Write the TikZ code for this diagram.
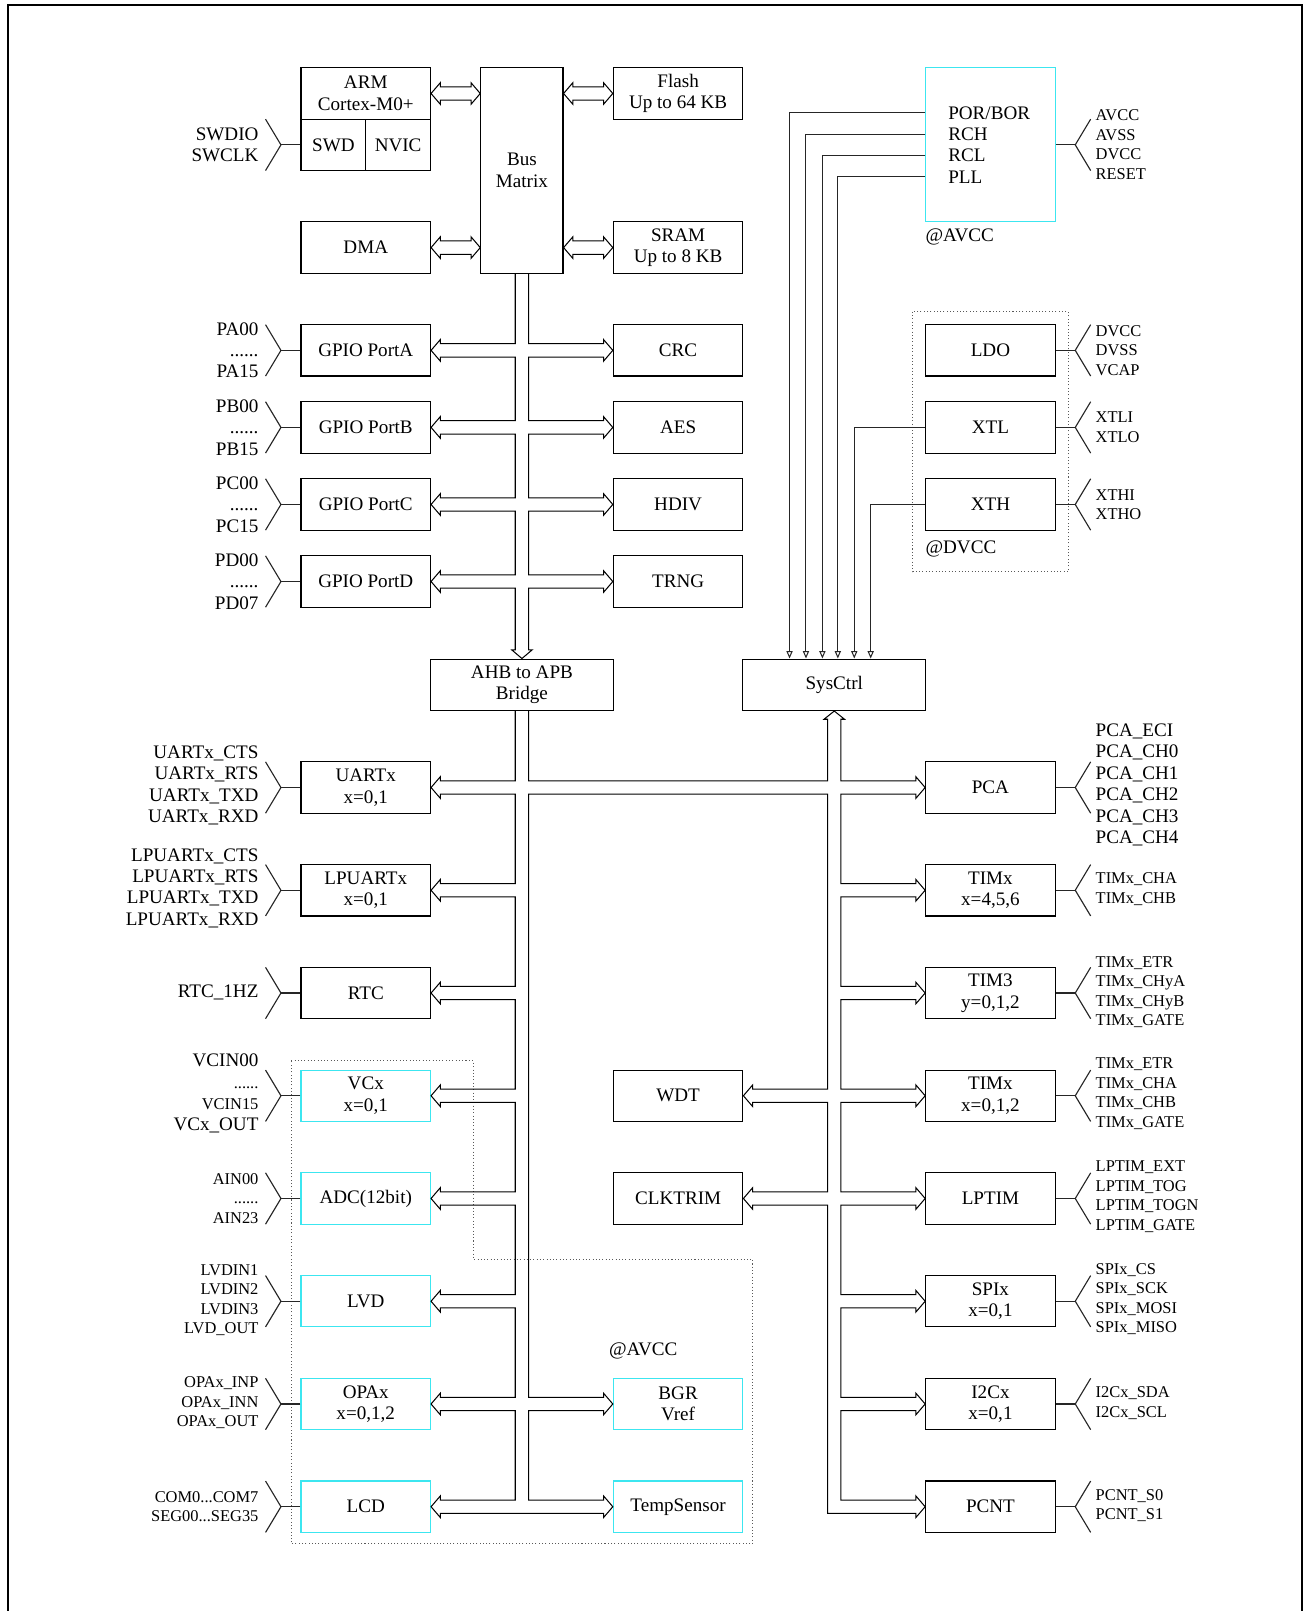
\documentclass[tikz,border=0pt]{standalone}
\usepackage{fontspec}
\setmainfont{Liberation Serif}
\usetikzlibrary{calc,arrows.meta}
\definecolor{cy}{RGB}{60,230,240}
\newcommand\fntB{\fontsize{9.3}{10.4}\selectfont}
\newcommand\fntS{\fontsize{8}{9.5}\selectfont}
% branch into a node's east side from a vertical bus line (traversed downward)
\newcommand\ArL[2]{-- ($(#1.east -| #2)+(0,-6.5)$) -- ($(#1.east)+(9,-6.5)$) -- ($(#1.east)+(9,-10.5)$) -- (#1.east) -- ($(#1.east)+(9,10.5)$) -- ($(#1.east)+(9,6.5)$) -- ($(#1.east -| #2)+(0,6.5)$)}
% branch into a node's west side from a vertical bus line (traversed upward)
\newcommand\ArR[2]{-- ($(#1.west -| #2)+(0,6.5)$) -- ($(#1.west)+(-9,6.5)$) -- ($(#1.west)+(-9,10.5)$) -- (#1.west) -- ($(#1.west)+(-9,-10.5)$) -- ($(#1.west)+(-9,-6.5)$) -- ($(#1.west -| #2)+(0,-6.5)$)}
\newcommand\DArr[2]{\draw[busline] (#1) -- ($(#1)+(9,-10.5)$) -- ($(#1)+(9,-6.5)$) -- ($(#2)+(-9,-6.5)$) -- ($(#2)+(-9,-10.5)$) -- (#2) -- ($(#2)+(-9,10.5)$) -- ($(#2)+(-9,6.5)$) -- ($(#1)+(9,6.5)$) -- ($(#1)+(9,10.5)$) -- cycle;}
\newcommand\LFan[1]{\draw[pinfan] (#1.west) -- ($(#1.west)+(-19,0)$);
  \draw[pinfan] ($(#1.west)+(-34,-25)$) -- ($(#1.west)+(-19,0)$) -- ($(#1.west)+(-34,25)$);}
\newcommand\RFan[1]{\draw[pinfan] (#1.east) -- ($(#1.east)+(19,0)$);
  \draw[pinfan] ($(#1.east)+(34,-25)$) -- ($(#1.east)+(19,0)$) -- ($(#1.east)+(34,25)$);}
\tikzset{
  blk/.style={draw, line width=0.55pt, minimum width=63pt, minimum height=25pt, inner sep=0pt, align=center, font=\fontsize{9.3}{10.5}\selectfont},
  cblk/.style={blk, draw=cy},
  busline/.style={line width=0.5pt, line join=miter},
  pinfan/.style={line width=0.55pt, draw=black!85},
  sig/.style={line width=0.5pt, draw=black!85, -{Triangle[open,length=3.6pt,width=3pt]}},
  lblL/.style={anchor=east, inner sep=0pt, align=right, font=\fntB},
  lblLs/.style={anchor=east, inner sep=0pt, align=right, font=\fntS},
  lblR/.style={anchor=west, inner sep=0pt, align=left, font=\fntB},
  lblRs/.style={anchor=west, inner sep=0pt, align=left, font=\fntS},
  dotbox/.style={draw=black!65, line width=0.5pt, dash pattern=on 0.5pt off 1.1pt},
  frameline/.style={line width=0.8pt}
}
\begin{document}
\begin{tikzpicture}[x=0.5pt,y=-0.5pt]
\useasboundingbox (0,0) rectangle (1276,1568);
\draw[frameline] (7.5,1568) -- (7.5,5) -- (1267.5,5) -- (1267.5,1568);

% ---------- upper blocks ----------
\node[blk] (arm) at (356,91) {ARM\\Cortex-M0+};
\node[blk, minimum width=31.5pt] (swd) at (324.5,141) {SWD};
\node[blk, minimum width=31.5pt] (nvic) at (387.5,141) {NVIC};
\node[blk, minimum width=40pt, minimum height=100pt] (bm) at (508,166) {Bus\\Matrix};
\node[blk] (flash) at (660,91) {Flash\\Up to 64 KB};
\node[blk] (dma) at (356,241) {DMA};
\node[blk] (sram) at (660,241) {SRAM\\Up to 8 KB};
\node[blk] (gpa) at (356,341) {GPIO PortA};
\node[blk] (gpb) at (356,416) {GPIO PortB};
\node[blk] (gpc) at (356,491) {GPIO PortC};
\node[blk] (gpd) at (356,566) {GPIO PortD};
\node[blk] (crc) at (660,341) {CRC};
\node[blk] (aes) at (660,416) {AES};
\node[blk] (hdiv) at (660,491) {HDIV};
\node[blk] (trng) at (660,566) {TRNG};
\node[blk, minimum width=89pt] (bridge) at (508,666.5) {AHB to APB\\Bridge};
\node[blk, minimum width=89pt] (sys) at (812,666.5) {SysCtrl};
\node[cblk, minimum height=75pt] (por) at (964,141) {};
\node[anchor=west, inner sep=0pt, align=left, font=\fntB] (portxt) at (922.6,141) {POR/BOR\\RCH\\RCL\\PLL};
\node[anchor=west, inner sep=0pt, font=\fntB] (avcc1) at ($(por.south west)+(0,13.7)$) {@AVCC};
\node[blk] (ldo) at (964,341) {LDO};
\node[blk] (xtl) at (964,416) {XTL};
\node[blk] (xth) at (964,491) {XTH};
\draw[dotbox] ($(ldo.north west)+(-12,-12)$) rectangle ($(xth.south east)+(12,40)$);
\node[anchor=west, inner sep=0pt, font=\fntB] (dvcc) at ($(xth.south west)+(0,17.7)$) {@DVCC};

% ---------- lower blocks ----------
\node[blk] (uart) at (356,766.5) {UARTx\\x=0,1};
\node[blk] (lpuart) at (356,866.5) {LPUARTx\\x=0,1};
\node[blk] (rtc) at (356,966.5) {RTC};
\node[cblk] (vcx) at (356,1066.5) {VCx\\x=0,1};
\node[cblk] (adc) at (356,1166.5) {ADC(12bit)};
\node[cblk] (lvd) at (356,1266.5) {LVD};
\node[cblk] (opa) at (356,1366.5) {OPAx\\x=0,1,2};
\node[cblk] (lcd) at (356,1466.5) {LCD};
\node[blk] (wdt) at (660,1066.5) {WDT};
\node[blk] (clk) at (660,1166.5) {CLKTRIM};
\node[cblk] (bgr) at (660,1366.5) {BGR\\Vref};
\node[cblk] (temp) at (660,1466.5) {TempSensor};
\node[blk] (pca) at (964,766.5) {PCA};
\node[blk] (tim456) at (964,866.5) {TIMx\\x=4,5,6};
\node[blk] (tim3) at (964,966.5) {TIM3\\y=0,1,2};
\node[blk] (tim012) at (964,1066.5) {TIMx\\x=0,1,2};
\node[blk] (lptim) at (964,1166.5) {LPTIM};
\node[blk] (spi) at (964,1266.5) {SPIx\\x=0,1};
\node[blk] (i2c) at (964,1366.5) {I2Cx\\x=0,1};
\node[blk] (pcnt) at (964,1466.5) {PCNT};
\draw[dotbox] ($(vcx.north west)+(-9,-8.5)$) -- ($(vcx.north east)+(41,-8.5)$) -- ($(adc.south east)+(41,33.5)$) -- ($(adc.south east -| temp.east)+(9,33.5)$) -- ($(temp.south east)+(9,10.5)$) -- ($(lcd.south west)+(-9,10.5)$) -- cycle;
\node[inner sep=0pt, font=\fntB] (avcc2) at ($(bgr.north)+(-34,-26)$) {@AVCC};

% ---------- bus coordinates ----------
\coordinate (bL) at ($(bm.south)+(-6.5,0)$);
\coordinate (bR) at ($(bm.south)+(6.5,0)$);
\coordinate (rL) at ($(sys.south)+(-6.5,0)$);
\coordinate (rR) at ($(sys.south)+(6.5,0)$);

% upper double arrows
\DArr{arm.east}{arm.east -| bm.west}
\DArr{dma.east}{dma.east -| bm.west}
\DArr{bm.east |- flash.west}{flash.west}
\DArr{bm.east |- sram.west}{sram.west}

% AHB bus
\draw[busline] (bL) \ArL{gpa}{bL} \ArL{gpb}{bL} \ArL{gpc}{bL} \ArL{gpd}{bL}
  -- ($(bridge.north -| bL)+(0,-8.5)$) -- ($(bridge.north)+(-10,-8.5)$) -- (bridge.north) -- ($(bridge.north)+(10,-8.5)$) -- ($(bridge.north -| bR)+(0,-8.5)$)
  \ArR{trng}{bR} \ArR{hdiv}{bR} \ArR{aes}{bR} \ArR{crc}{bR} -- (bR);

% APB bus
\draw[busline] (bL |- bridge.south) \ArL{uart}{bL} \ArL{lpuart}{bL} \ArL{rtc}{bL} \ArL{vcx}{bL} \ArL{adc}{bL} \ArL{lvd}{bL} \ArL{opa}{bL}
  -- ($(lcd.east -| bL)+(0,-6.5)$) -- ($(lcd.east)+(9,-6.5)$) -- ($(lcd.east)+(9,-10.5)$) -- (lcd.east) -- ($(lcd.east)+(9,10.5)$) -- ($(lcd.east)+(9,6.5)$)
  -- ($(temp.west)+(-9,6.5)$) -- ($(temp.west)+(-9,10.5)$) -- (temp.west) -- ($(temp.west)+(-9,-10.5)$) -- ($(temp.west)+(-9,-6.5)$) -- ($(temp.west -| bR)+(0,-6.5)$)
  \ArR{bgr}{bR} -- ($(uart.east -| bR)+(0,6.5)$) -- ($(uart.east -| rL)+(0,6.5)$)
  \ArL{wdt}{rL} \ArL{clk}{rL}
  -- ($(pcnt.west -| rL)+(0,6.5)$) -- ($(pcnt.west)+(-9,6.5)$) -- ($(pcnt.west)+(-9,10.5)$) -- (pcnt.west) -- ($(pcnt.west)+(-9,-10.5)$) -- ($(pcnt.west)+(-9,-6.5)$) -- ($(pcnt.west -| rR)+(0,-6.5)$)
  \ArR{i2c}{rR} \ArR{spi}{rR} \ArR{lptim}{rR} \ArR{tim012}{rR} \ArR{tim3}{rR} \ArR{tim456}{rR} \ArR{pca}{rR}
  -- ($(sys.south -| rR)+(0,8)$) -- ($(sys.south)+(10,8)$) -- (sys.south) -- ($(sys.south)+(-10,8)$) -- ($(sys.south -| rL)+(0,8)$)
  -- ($(uart.east -| rL)+(0,-6.5)$) -- ($(uart.east -| bR)+(0,-6.5)$) -- (bR |- bridge.south);

% clock / reset signals into SysCtrl
\draw[sig] ($(por.west)+(0,-31.3)$) -| ($(sys.north west)+(46,0)$);
\draw[sig] ($(por.west)+(0,-10.3)$) -| ($(sys.north west)+(62,0)$);
\draw[sig] ($(por.west)+(0,10.5)$) -| ($(sys.north west)+(78,0)$);
\draw[sig] ($(por.west)+(0,31)$) -| ($(sys.north west)+(93,0)$);
\draw[sig] (xtl.west) -| ($(sys.north west)+(109,0)$);
\draw[sig] (xth.west) -| ($(sys.north west)+(125,0)$);

% ---------- pin fans ----------
\LFan{swd} \LFan{gpa} \LFan{gpb} \LFan{gpc} \LFan{gpd}
\LFan{uart} \LFan{lpuart} \LFan{rtc} \LFan{vcx} \LFan{adc} \LFan{lvd} \LFan{opa} \LFan{lcd}
\RFan{por} \RFan{ldo} \RFan{xtl} \RFan{xth}
\RFan{pca} \RFan{tim456} \RFan{tim3} \RFan{tim012} \RFan{lptim} \RFan{spi} \RFan{i2c} \RFan{pcnt}

% ---------- left pin labels ----------
\node[lblL] (lswd) at ($(swd.west)+(-40.5,0)$) {SWDIO\\SWCLK};
\node[lblL] (lpa) at ($(gpa.west)+(-40.5,0)$) {PA00\\......\\PA15};
\node[lblL] (lpb) at ($(gpb.west)+(-40.5,0)$) {PB00\\......\\PB15};
\node[lblL] (lpc) at ($(gpc.west)+(-40.5,0)$) {PC00\\......\\PC15};
\node[lblL] (lpd) at ($(gpd.west)+(-40.5,0)$) {PD00\\......\\PD07};
\node[lblL] (luart) at ($(uart.west)+(-40.5,-2)$) {UARTx\_CTS\\UARTx\_RTS\\UARTx\_TXD\\UARTx\_RXD};
\node[lblL] (llpuart) at ($(lpuart.west)+(-40.5,-2)$) {LPUARTx\_CTS\\LPUARTx\_RTS\\LPUARTx\_TXD\\LPUARTx\_RXD};
\node[lblL] (lrtc) at ($(rtc.west)+(-40.5,-1)$) {RTC\_1HZ};
\node[lblL] (lvcx) at ($(vcx.west)+(-40.5,-2)$) {VCIN00\\{\fntS ......}\\{\fntS VCIN15}\\VCx\_OUT};
\node[lblLs] (ladc) at ($(adc.west)+(-40.5,0)$) {AIN00\\......\\AIN23};
\node[lblLs] (llvd) at ($(lvd.west)+(-40.5,-1)$) {LVDIN1\\LVDIN2\\LVDIN3\\LVD\_OUT};
\node[lblLs] (lopa) at ($(opa.west)+(-40.5,-1)$) {OPAx\_INP\\OPAx\_INN\\OPAx\_OUT};
\node[lblLs] (llcd) at ($(lcd.west)+(-40.5,0)$) {COM0...COM7\\SEG00...SEG35};

% ---------- right pin labels ----------
\node[lblRs] (rpor) at ($(por.east)+(38.5,0)$) {AVCC\\AVSS\\DVCC\\RESET};
\node[lblRs] (rldo) at ($(ldo.east)+(38.5,0)$) {DVCC\\DVSS\\VCAP};
\node[lblRs] (rxtl) at ($(xtl.east)+(38.5,0)$) {XTLI\\XTLO};
\node[lblRs] (rxth) at ($(xth.east)+(38.5,0)$) {XTHI\\XTHO};
\node[lblR] (rpca) at ($(pca.east)+(38.5,-2.5)$) {PCA\_ECI\\PCA\_CH0\\PCA\_CH1\\PCA\_CH2\\PCA\_CH3\\PCA\_CH4};
\node[lblRs] (rt456) at ($(tim456.east)+(38.5,-1)$) {TIMx\_CHA\\TIMx\_CHB};
\node[lblRs] (rt3) at ($(tim3.east)+(38.5,-1)$) {TIMx\_ETR\\TIMx\_CHyA\\TIMx\_CHyB\\TIMx\_GATE};
\node[lblRs] (rt012) at ($(tim012.east)+(38.5,-2)$) {TIMx\_ETR\\TIMx\_CHA\\TIMx\_CHB\\TIMx\_GATE};
\node[lblRs] (rlptim) at ($(lptim.east)+(38.5,-2)$) {LPTIM\_EXT\\LPTIM\_TOG\\LPTIM\_TOGN\\LPTIM\_GATE};
\node[lblRs] (rspi) at ($(spi.east)+(38.5,-2)$) {SPIx\_CS\\SPIx\_SCK\\SPIx\_MOSI\\SPIx\_MISO};
\node[lblRs] (ri2c) at ($(i2c.east)+(38.5,-1)$) {I2Cx\_SDA\\I2Cx\_SCL};
\node[lblRs] (rpcnt) at ($(pcnt.east)+(38.5,-1)$) {PCNT\_S0\\PCNT\_S1};
\end{tikzpicture}
\end{document}
